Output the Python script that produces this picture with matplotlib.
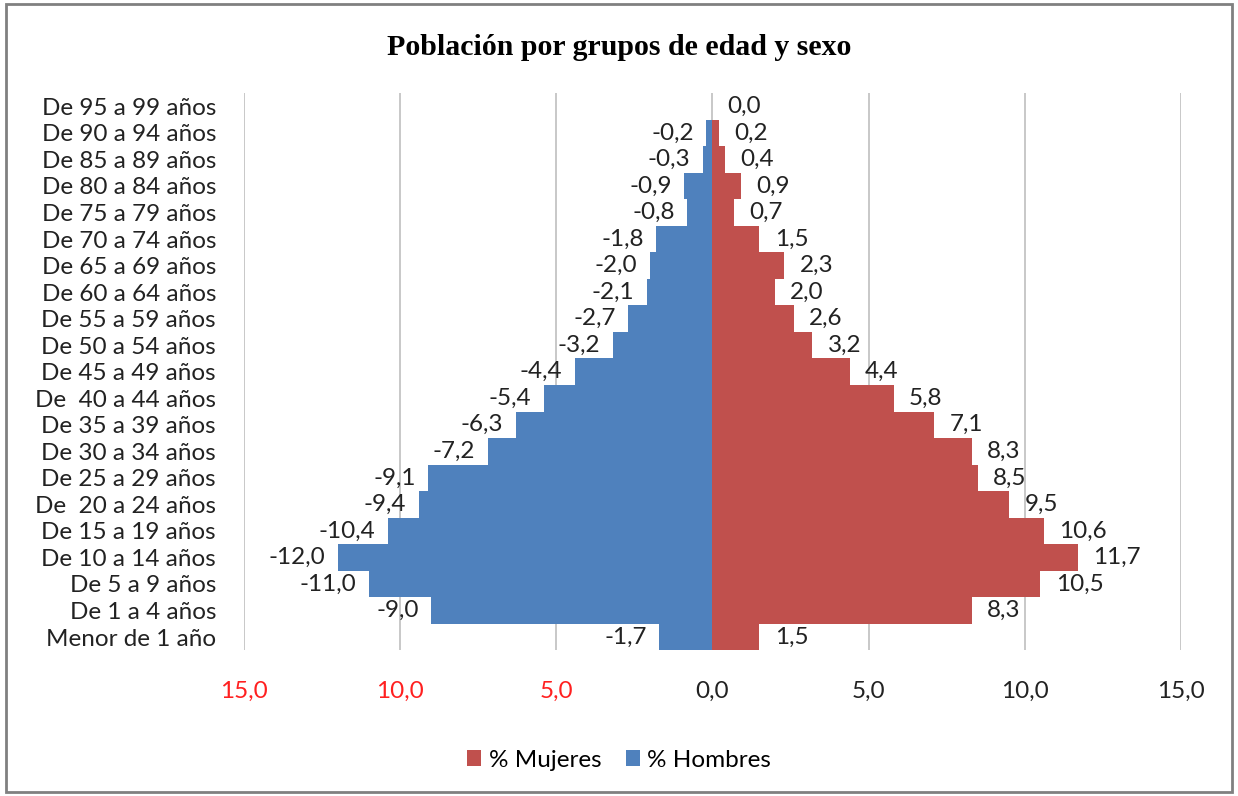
import matplotlib.pyplot as plt
from matplotlib.patches import Rectangle

grupos = ['Menor de 1 año', 'De 1 a 4 años', 'De 5 a 9 años', 'De 10 a 14 años',
          'De 15 a 19 años', 'De  20 a 24 años', 'De 25 a 29 años', 'De 30 a 34 años',
          'De 35 a 39 años', 'De  40 a 44 años', 'De 45 a 49 años', 'De 50 a 54 años',
          'De 55 a 59 años', 'De 60 a 64 años', 'De 65 a 69 años', 'De 70 a 74 años',
          'De 75 a 79 años', 'De 80 a 84 años', 'De 85 a 89 años', 'De 90 a 94 años',
          'De 95 a 99 años']
hombres = [-1.7, -9.0, -11.0, -12.0, -10.4, -9.4, -9.1, -7.2, -6.3, -5.4, -4.4,
           -3.2, -2.7, -2.1, -2.0, -1.8, -0.8, -0.9, -0.3, -0.2, 0.0]
mujeres = [1.5, 8.3, 10.5, 11.7, 10.6, 9.5, 8.5, 8.3, 7.1, 5.8, 4.4,
           3.2, 2.6, 2.0, 2.3, 1.5, 0.7, 0.9, 0.4, 0.2, 0.0]
xticks = [-15, -10, -5, 0, 5, 10, 15]
xlabels = ['15,0', '10,0', '5,0', '0,0', '5,0', '10,0', '15,0']

azul = '#4F81BD'
rojo = '#C0504D'
fs = 17.5
plt.rcParams['font.family'] = ['Lato', 'DejaVu Sans']

fig = plt.figure(figsize=(12.38, 7.96), dpi=100)
ax = fig.add_axes([0.197, 0.183, 0.757, 0.7])

y = list(range(len(grupos)))
ax.barh(y, mujeres, height=1.0, color=rojo, label='% Mujeres', zorder=2)
ax.barh(y, hombres, height=1.0, color=azul, label='% Hombres', zorder=2)

fmt = lambda v: ('%.1f' % v).replace('.', ',')
for i in y:
    if hombres[i] != 0:
        ax.annotate(fmt(hombres[i]), (hombres[i], i), xytext=(-9, 0),
                    textcoords='offset points', ha='right', va='center',
                    fontsize=fs, color='#222222')
    ax.annotate(fmt(mujeres[i]), (mujeres[i], i), xytext=(11, 0),
                textcoords='offset points', ha='left', va='center',
                fontsize=fs, color='#222222')

ax.set_xlim(-15, 15)
ax.set_ylim(-0.5, len(grupos) - 0.5)
ax.set_xticks(xticks)
ax.set_xticklabels(xlabels, fontsize=fs)
for lbl, v in zip(ax.get_xticklabels(), xticks):
    lbl.set_color('#FF2020' if v < 0 else '#222222')
ax.set_yticks(y)
ax.set_yticklabels(grupos, fontsize=fs, color='#222222')
ax.tick_params(axis='both', length=0)
ax.tick_params(axis='x', pad=22)
ax.tick_params(axis='y', pad=20)
ax.grid(axis='x', color='#BFBFBF', linewidth=1.2, zorder=0)
ax.set_axisbelow(True)
for s in ax.spines.values():
    s.set_visible(False)

fig.text(0.5, 0.94, 'Población por grupos de edad y sexo', ha='center', va='center',
         fontsize=21.5, fontweight='bold', family='Liberation Serif')

fig.legend(loc='center', bbox_to_anchor=(0.5, 0.045), ncol=2, frameon=False,
           fontsize=fs, handlelength=0.6, handleheight=0.6, handletextpad=0.3,
           columnspacing=1.0)

fig.patches.append(Rectangle((0.005, 0.005), 0.99, 0.99, transform=fig.transFigure,
                             fill=False, edgecolor='#808080', linewidth=2))

fig.savefig('out.png', dpi=100)
